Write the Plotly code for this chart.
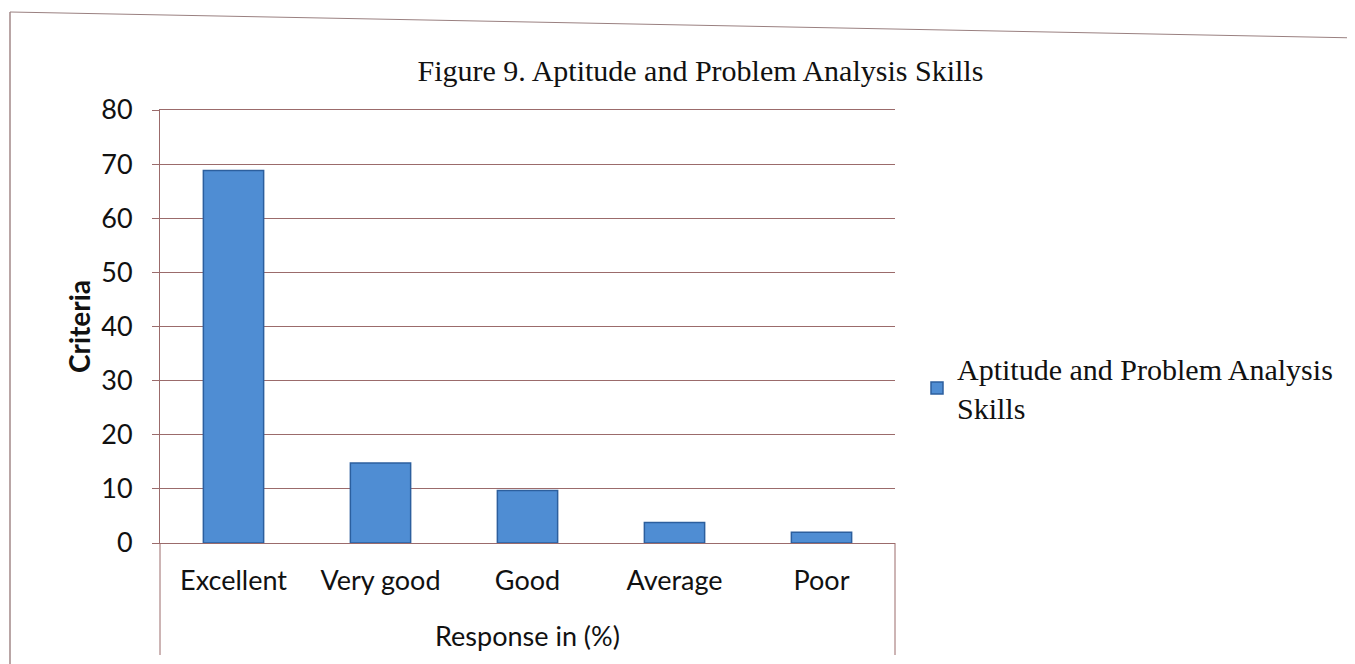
import plotly.graph_objects as go

categories = ["Excellent", "Very good", "Good", "Average", "Poor"]
values = [68.8, 14.8, 9.7, 3.8, 2.0]
series_name = "Aptitude and Problem Analysis<br>Skills"
y_ticks = [0, 10, 20, 30, 40, 50, 60, 70, 80]

grid_col = "#9b6b6b"
PL, PT, PW, PH = 160, 110, 735, 433  # plot box in page pixels


def px(xa):
    return (xa - PL) / PW


def py(ya):
    return (PT + PH - ya) / PH


fig = go.Figure()
fig.add_trace(go.Bar(
    x=categories, y=values, name=series_name,
    marker=dict(color="#4f8dd3", line=dict(color="#2c5f9e", width=1.5)),
    showlegend=True,
))

fig.update_layout(
    width=1355, height=664,
    paper_bgcolor="white", plot_bgcolor="white",
    margin=dict(l=152, r=468, t=102, b=129),
    bargap=0.59,
    title=dict(text="Figure 9. Aptitude and Problem Analysis Skills",
               x=0.511, xanchor="center", y=0.906, yanchor="middle",
               font=dict(family="Liberation Serif", size=30, color="#111")),
    legend=dict(x=px(917), y=py(388), xanchor="left", yanchor="middle",
                font=dict(family="Liberation Serif", size=30, color="#111"),
                itemwidth=30, tracegroupgap=0),
    xaxis=dict(showline=True, linecolor=grid_col, linewidth=1, mirror=True,
               ticks="", ticklabelstandoff=14,
               tickfont=dict(family="Lato", size=27, color="#111"),
               title=dict(text="Response in (%)", standoff=31,
                          font=dict(family="Lato", size=27, color="#111"))),
    yaxis=dict(range=[0, 80], tickvals=y_ticks, showline=True, linecolor=grid_col,
               linewidth=1, showgrid=True, gridcolor=grid_col, gridwidth=1,
               ticks="outside", ticklen=7, tickcolor=grid_col, zeroline=False,
               ticklabelstandoff=14,
               tickfont=dict(family="Lato", size=27, color="#111"),
               title=dict(text="<b>Criteria</b>", standoff=2,
                          font=dict(family="Lato", size=28, color="#111"))),
)

line_style = dict(color=grid_col, width=1)
# extension of the chart frame below the axis
fig.add_shape(type="line", xref="paper", yref="paper",
              x0=0, x1=0, y0=0, y1=py(655), line=line_style)
fig.add_shape(type="line", xref="paper", yref="paper",
              x0=1, x1=1, y0=0, y1=py(655), line=line_style)
# page frame from the scan
fig.add_shape(type="line", xref="paper", yref="paper",
              x0=px(10), x1=px(10), y0=py(672), y1=py(12),
              line=dict(color="#8a6a6a", width=1.2))
fig.add_shape(type="line", xref="paper", yref="paper",
              x0=px(10), x1=px(1360), y0=py(12), y1=py(38),
              line=dict(color="#9a8080", width=1))

fig.write_html("out.html")
